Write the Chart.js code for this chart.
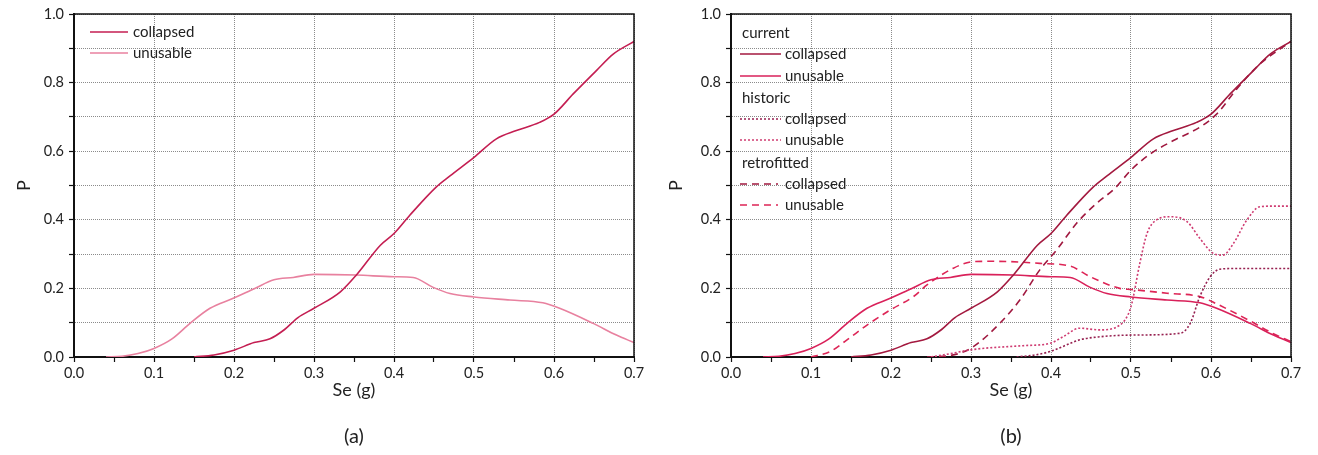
<!DOCTYPE html>
<html><head><meta charset="utf-8">
<script src="https://cdn.jsdelivr.net/npm/chart.js@4.4.1/dist/chart.umd.min.js"></script>
<style>
html,body{margin:0;padding:0;background:#fff;}
#wrap{position:relative;width:1318px;height:455px;overflow:hidden;}
.box{position:absolute;top:0;width:659px;height:455px;}
</style></head><body>
<div id="wrap">
<div class="box" style="left:0"><canvas id="ca"></canvas></div>
<div class="box" style="left:659px"><canvas id="cb"></canvas></div>
</div>
<script>
// ---- tick labels ----
const xTickLabels = ['0.0','0.1','0.2','0.3','0.4','0.5','0.6','0.7'];
const yTickLabels = ['0.0','0.2','0.4','0.6','0.8','1.0'];

// ---- series (Se in g, P) ----
const currentCollapsedX = [0.15,0.175,0.2,0.225,0.245,0.262,0.28,0.3,0.333,0.353,0.383,0.4,0.42,0.453,0.47,0.5,0.528,0.553,0.582,0.6,0.624,0.653,0.674,0.7];
const currentCollapsedY = [0,0.006,0.02,0.042,0.053,0.078,0.115,0.142,0.19,0.239,0.326,0.36,0.414,0.496,0.528,0.582,0.636,0.66,0.684,0.708,0.767,0.835,0.883,0.92];

const currentUnusableX = [0.04,0.06,0.08,0.1,0.122,0.145,0.17,0.199,0.226,0.25,0.274,0.3,0.353,0.4,0.424,0.449,0.47,0.5,0.545,0.586,0.607,0.649,0.678,0.7];
const currentUnusableY = [0,0.002,0.01,0.025,0.052,0.098,0.142,0.171,0.2,0.225,0.232,0.241,0.239,0.234,0.232,0.203,0.185,0.175,0.166,0.158,0.142,0.098,0.064,0.042];

const historicCollapsedX = [0.357,0.38,0.399,0.436,0.461,0.503,0.561,0.574,0.586,0.599,0.611,0.63,0.7];
const historicCollapsedY = [0,0.006,0.016,0.05,0.059,0.064,0.069,0.098,0.176,0.234,0.256,0.258,0.258];

const historicUnusableX = [0.25,0.27,0.303,0.365,0.399,0.415,0.436,0.461,0.486,0.5,0.511,0.52,0.532,0.549,0.57,0.586,0.603,0.615,0.628,0.645,0.661,0.68,0.7];
const historicUnusableY = [0,0.008,0.022,0.033,0.04,0.059,0.084,0.079,0.093,0.147,0.273,0.36,0.4,0.409,0.395,0.346,0.302,0.297,0.331,0.4,0.438,0.44,0.44];

const retroCollapsedX = [0.245,0.27,0.286,0.303,0.336,0.361,0.386,0.407,0.432,0.457,0.48,0.5,0.524,0.553,0.586,0.607,0.632,0.661,0.7];
const retroCollapsedY = [0,0.003,0.011,0.03,0.098,0.166,0.254,0.312,0.39,0.448,0.492,0.545,0.592,0.631,0.67,0.708,0.781,0.854,0.92];

const retroUnusableX = [0.1,0.124,0.145,0.17,0.199,0.228,0.245,0.278,0.303,0.324,0.35,0.386,0.424,0.449,0.486,0.5,0.545,0.586,0.607,0.649,0.678,0.7];
const retroUnusableY = [0,0.016,0.05,0.093,0.137,0.176,0.21,0.259,0.278,0.279,0.278,0.273,0.265,0.234,0.2,0.197,0.186,0.176,0.155,0.105,0.068,0.045];

const pts = (xs, ys) => xs.map((x, i) => ({x, y: ys[i]}));
const FONT = 'Lato, "Open Sans", sans-serif';

function ds(label, xs, ys, color, dash) {
  return {label, data: pts(xs, ys), borderColor: color, backgroundColor: color,
    borderWidth: 1.6, borderDash: dash, pointRadius: 0, fill: false,
    cubicInterpolationMode: 'monotone', tension: 0.4};
}

const decor = {
  id: 'decor',
  afterDraw(chart, args, opts) {
    const {ctx, chartArea: a} = chart;
    ctx.save();
    ctx.strokeStyle = '#111'; ctx.lineWidth = 1.5; ctx.setLineDash([]);
    ctx.beginPath(); ctx.moveTo(a.left, a.top); ctx.lineTo(a.right, a.top); ctx.lineTo(a.right, a.bottom); ctx.stroke();
    ctx.font = '15px ' + FONT; ctx.textBaseline = 'middle'; ctx.textAlign = 'left'; ctx.fillStyle = '#222';
    opts.items.forEach(it => {
      if (it.header) { ctx.fillStyle = '#222'; ctx.fillText(it.header, a.left + it.x, a.top + it.y); return; }
      const d = chart.data.datasets[it.ds];
      ctx.strokeStyle = d.borderColor; ctx.lineWidth = d.borderWidth; ctx.setLineDash(d.borderDash || []);
      ctx.beginPath(); ctx.moveTo(a.left + it.x1, a.top + it.y); ctx.lineTo(a.left + it.x2, a.top + it.y); ctx.stroke();
      ctx.setLineDash([]); ctx.fillStyle = '#222';
      ctx.fillText(it.text, a.left + it.tx, a.top + it.y);
    });
    ctx.font = '20px ' + FONT; ctx.textAlign = 'center'; ctx.fillStyle = '#222';
    ctx.fillText(opts.caption, (a.left + a.right) / 2, 437);
    ctx.restore();
  }
};

const isMajorX = v => Math.round(v * 100) % 10 === 0;
const isMajorY = v => Math.round(v * 100) % 20 === 0;

function makeOptions(yWidth, rightPad, pTitlePad, items, caption) {
  return {
    responsive: true, maintainAspectRatio: false, animation: false,
    layout: {padding: {left: 0, top: 14, right: rightPad, bottom: 0}},
    plugins: {legend: {display: false}, tooltip: {enabled: false}, decor: {items, caption}},
    scales: {
      x: {
        type: 'linear', min: 0, max: 0.7,
        afterFit: s => { s.height = 98; },
        ticks: {stepSize: 0.05, autoSkip: false, maxRotation: 0, padding: 3, color: '#222',
          font: {family: FONT, size: 14.5},
          callback: v => isMajorX(v) ? xTickLabels[Math.round(v * 10)] : ''},
        grid: {color: c => (c.tick && isMajorX(c.tick.value)) ? 'rgba(90,90,90,0.7)' : 'rgba(0,0,0,0)',
          tickColor: '#111', tickLength: 5, lineWidth: 1, tickWidth: 1.2},
        border: {display: true, color: '#111', width: 2, dash: [1, 1]},
        title: {display: true, text: 'Se (g)', color: '#222', font: {family: FONT, size: 18},
          padding: {top: 0, bottom: 54}}
      },
      y: {
        type: 'linear', min: 0, max: 1,
        afterFit: s => { s.width = yWidth; },
        ticks: {stepSize: 0.1, autoSkip: false, padding: 5, color: '#222',
          font: {family: FONT, size: 14.5},
          callback: v => isMajorY(v) ? yTickLabels[Math.round(v * 5)] : ''},
        grid: {color: 'rgba(90,90,90,0.7)', tickColor: '#111', tickLength: 5, lineWidth: 1, tickWidth: 1.2},
        border: {display: true, color: '#111', width: 2, dash: [1, 1]},
        title: {display: true, text: 'P', color: '#222', font: {family: FONT, size: 18},
          padding: {top: pTitlePad, bottom: 0}}
      }
    }
  };
}

new Chart(document.getElementById('ca'), {
  type: 'line',
  data: {datasets: [
    ds('collapsed', currentCollapsedX, currentCollapsedY, '#c41e52', []),
    ds('unusable', currentUnusableX, currentUnusableY, '#e8819f', [])
  ]},
  options: makeOptions(74, 25, 13, [
    {ds: 0, x1: 16, x2: 54, tx: 59, y: 18, text: 'collapsed'},
    {ds: 1, x1: 16, x2: 54, tx: 59, y: 39, text: 'unusable'}
  ], '(a)'),
  plugins: [decor]
});

new Chart(document.getElementById('cb'), {
  type: 'line',
  data: {datasets: [
    ds('current collapsed', currentCollapsedX, currentCollapsedY, '#a3193f', []),
    ds('current unusable', currentUnusableX, currentUnusableY, '#d9215a', []),
    ds('historic collapsed', historicCollapsedX, historicCollapsedY, '#962050', [2, 2]),
    ds('historic unusable', historicUnusableX, historicUnusableY, '#cf3c72', [2, 2]),
    ds('retrofitted collapsed', retroCollapsedX, retroCollapsedY, '#a0183f', [7, 5]),
    ds('retrofitted unusable', retroUnusableX, retroUnusableY, '#dd2556', [7, 5])
  ]},
  options: makeOptions(72, 27, 6, [
    {header: 'current', x: 11, y: 19},
    {ds: 0, x1: 9, x2: 50, tx: 54, y: 40, text: 'collapsed'},
    {ds: 1, x1: 9, x2: 50, tx: 54, y: 62, text: 'unusable'},
    {header: 'historic', x: 11, y: 84},
    {ds: 2, x1: 9, x2: 50, tx: 54, y: 105, text: 'collapsed'},
    {ds: 3, x1: 9, x2: 50, tx: 54, y: 126, text: 'unusable'},
    {header: 'retrofitted', x: 11, y: 149},
    {ds: 4, x1: 9, x2: 47, tx: 54, y: 170, text: 'collapsed'},
    {ds: 5, x1: 9, x2: 47, tx: 54, y: 191, text: 'unusable'}
  ], '(b)'),
  plugins: [decor]
});
</script>
</body></html>
